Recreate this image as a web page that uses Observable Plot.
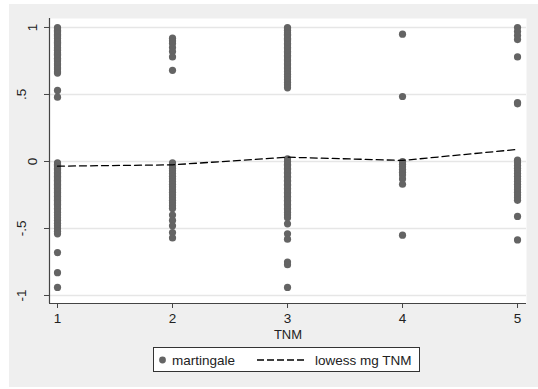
<!DOCTYPE html>
<html>
<head>
<meta charset="utf-8">
<script src="https://cdn.jsdelivr.net/npm/d3@7"></script>
<script src="https://cdn.jsdelivr.net/npm/@observablehq/plot@0.6"></script>
<style>
  html, body { margin: 0; padding: 0; background: #ffffff; }
  body { width: 538px; height: 389px; position: relative; overflow: hidden;
         font-family: "Liberation Sans", Arial, Helvetica, sans-serif; }
  #bg { position: absolute; left: 9px; top: 4px; width: 529px; height: 383px; background: #efefef; }
  #chart { position: absolute; left: 0; top: 0; }
  #legend { position: absolute; left: 153px; top: 347px; }
</style>
</head>
<body>
<div id="bg"></div>
<div id="chart"></div>
<div id="legend"></div>
<script>
// ---- data (martingale residuals by TNM stage) ----
const tnm1 = [1.00, 0.99, 0.98, 0.97, 0.96, 0.95, 0.94, 0.93, 0.92, 0.90, 0.89, 0.88, 0.87, 0.85, 0.84,
  0.83, 0.81, 0.80, 0.79, 0.77, 0.76, 0.75, 0.73, 0.72, 0.70, 0.69, 0.67, 0.66, 0.53, 0.48,
  -0.01, -0.02, -0.03, -0.04, -0.05, -0.06, -0.07, -0.08, -0.09, -0.10, -0.11, -0.12, -0.13, -0.14,
  -0.15, -0.16, -0.17, -0.18, -0.19, -0.20, -0.21, -0.22, -0.23, -0.24, -0.25, -0.26, -0.27, -0.28,
  -0.29, -0.30, -0.31, -0.32, -0.33, -0.35, -0.36, -0.38, -0.40, -0.42, -0.44, -0.46, -0.48, -0.50,
  -0.52, -0.54, -0.68, -0.83, -0.94];
const tnm2 = [0.92, 0.90, 0.88, 0.85, 0.82, 0.78, 0.68,
  -0.01, -0.03, -0.05, -0.07, -0.09, -0.11, -0.13, -0.15, -0.17, -0.19, -0.21, -0.23, -0.25, -0.27,
  -0.29, -0.31, -0.33, -0.35, -0.40, -0.44, -0.48, -0.53, -0.57];
const tnm3 = [1.00, 0.99, 0.98, 0.96, 0.95, 0.94, 0.92, 0.91, 0.90, 0.88, 0.87, 0.85, 0.84, 0.82, 0.81,
  0.79, 0.78, 0.76, 0.75, 0.73, 0.72, 0.70, 0.69, 0.67, 0.65, 0.63, 0.61, 0.59, 0.57, 0.55,
  0.02, 0.00, -0.02, -0.03, -0.05, -0.06, -0.08, -0.09, -0.11, -0.12, -0.14, -0.15, -0.17, -0.18,
  -0.20, -0.21, -0.23, -0.24, -0.26, -0.27, -0.29, -0.30, -0.32, -0.33, -0.35, -0.36, -0.38, -0.40,
  -0.42, -0.465, -0.54, -0.58, -0.75, -0.77, -0.94];
const tnm4 = [0.95, 0.485, 0.00, -0.02, -0.04, -0.06, -0.08, -0.10, -0.13, -0.17, -0.55];
const tnm5 = [1.00, 0.97, 0.94, 0.91, 0.78, 0.44, 0.43,
  0.01, -0.01, -0.03, -0.05, -0.07, -0.09, -0.11, -0.13, -0.15, -0.17, -0.19, -0.21, -0.23, -0.25,
  -0.27, -0.29, -0.41, -0.585];

const lowessX = [1, 2, 3, 4, 5];
const lowessY = [-0.035, -0.025, 0.032, 0.008, 0.09];

const xTicks = [1, 2, 3, 4, 5];
const yTicks = [1, 0.5, 0, -0.5, -1];
const yTickLabels = ["1", ".5", "0", "-.5", "-1"];

const xDomain = [0.9304, 5.078];
const yDomain = [-1.0597, 1.067];

// ---- build tables ----
const columns = [tnm1, tnm2, tnm3, tnm4, tnm5];
const points = columns.flatMap((vals, i) => vals.map(v => ({tnm: xTicks[i], mg: v})));
const lowess = lowessX.map((x, i) => ({tnm: x, mg: lowessY[i]}));
const yLab = yTicks.map((v, i) => ({v, label: yTickLabels[i]}));

const FONT = "Liberation Sans, Arial, Helvetica, sans-serif";
const FS = 13.5;

const chart = Plot.plot({
  width: 538,
  height: 389,
  marginLeft: 49,
  marginRight: 12,
  marginTop: 18,
  marginBottom: 86,
  style: {background: "none", fontFamily: FONT, fontSize: FS + "px", color: "#222"},
  x: {domain: xDomain},
  y: {domain: yDomain},
  marks: [
    Plot.frame({fill: "#ffffff", stroke: "none"}),
    Plot.ruleY(yTicks, {stroke: "#e6e6e6", strokeWidth: 1.5}),
    Plot.ruleX([xDomain[0]], {stroke: "#444", strokeWidth: 1.2}),
    Plot.ruleY([yDomain[0]], {stroke: "#444", strokeWidth: 1.2}),
    Plot.dot(points, {x: "tnm", y: "mg", r: 3.6, fill: "#646464", stroke: "none"}),
    Plot.line(lowess, {x: "tnm", y: "mg", stroke: "#000", strokeWidth: 1.3, strokeDasharray: "7,4"}),
    Plot.axisX(xTicks, {tickSize: 5, tickPadding: 5, tickFormat: d => String(d), label: null,
      fontSize: FS, stroke: "#444", fill: "#222"}),
    Plot.axisY(yTicks, {tickSize: 5, tickFormat: () => "", label: null, stroke: "#444"}),
    Plot.text(yLab.filter(d => d.label.length === 1), {y: "v", text: "label", frameAnchor: "left",
      dx: -16.5, rotate: -90, textAnchor: "middle", lineAnchor: "middle", fontSize: FS, fill: "#222"}),
    Plot.text(yLab.filter(d => d.label.length > 1), {y: "v", text: "label", frameAnchor: "left",
      dx: -27.5, rotate: -90, textAnchor: "middle", lineAnchor: "middle", fontSize: FS, fill: "#222"}),
    Plot.text(["TNM"], {frameAnchor: "bottom", dy: 31, lineAnchor: "middle", fontSize: 13, fill: "#222"})
  ]
});
document.getElementById("chart").appendChild(chart);

// ---- legend ----
const legendItems = ["martingale", "lowess mg TNM"];
const lg = d3.select("#legend").append("svg")
  .attr("width", 268).attr("height", 26)
  .style("font-family", FONT).style("font-size", FS + "px");
lg.append("rect").attr("x", 0.5).attr("y", 0.5).attr("width", 266).attr("height", 24)
  .attr("fill", "#fff").attr("stroke", "#333").attr("stroke-width", 1);
lg.append("circle").attr("cx", 9.5).attr("cy", 13).attr("r", 3.4).attr("fill", "#646464");
lg.append("text").attr("x", 19).attr("y", 13).attr("dy", "0.35em").attr("fill", "#222").text(legendItems[0]);
lg.append("line").attr("x1", 104).attr("x2", 154).attr("y1", 13).attr("y2", 13)
  .attr("stroke", "#000").attr("stroke-width", 1.3).attr("stroke-dasharray", "7,3");
lg.append("text").attr("x", 162).attr("y", 13).attr("dy", "0.35em").attr("fill", "#222").text(legendItems[1]);
</script>
</body>
</html>
